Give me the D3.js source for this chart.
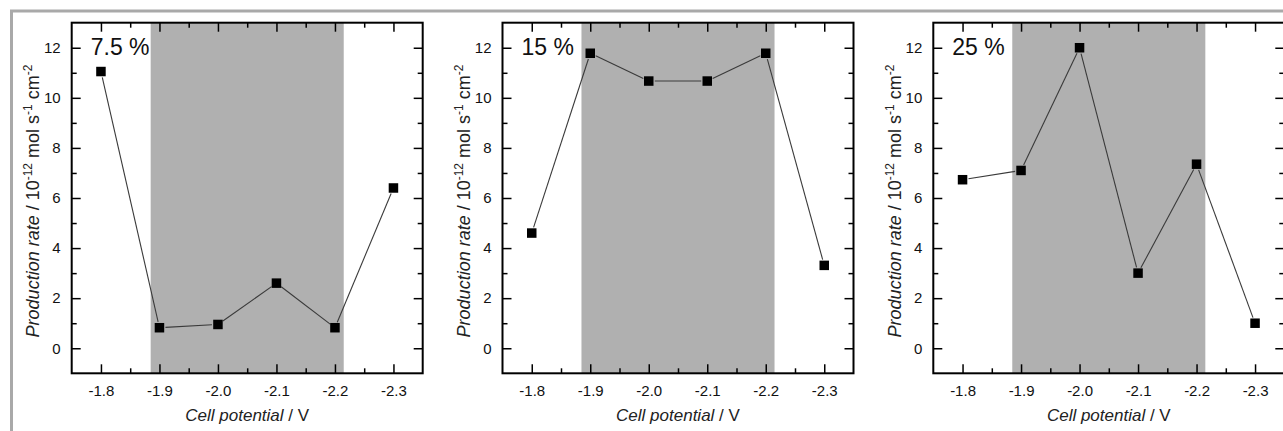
<!DOCTYPE html>
<html>
<head>
<meta charset="utf-8">
<script src="https://cdn.jsdelivr.net/npm/d3@7"></script>
<style>
  body { margin: 0; background: #fff; }
  svg { display: block; font-family: "Liberation Sans", Arial, sans-serif; }
</style>
</head>
<body>
<svg id="chart" width="1283" height="431"></svg>
<script>
// data
var potentials = [-1.8, -1.9, -2.0, -2.1, -2.2, -2.3];
var rate75 = [11.05, 0.82, 0.95, 2.6, 0.82, 6.4];
var rate15 = [4.6, 11.78, 10.67, 10.67, 11.78, 3.31];
var rate25 = [6.73, 7.1, 12.0, 3.0, 7.35, 1.0];
var panelLabels = ["7.5 %", "15 %", "25 %"];
var shadedRange = [-1.885, -2.215];
var xMajor = [-1.8, -1.9, -2.0, -2.1, -2.2, -2.3];
var xMinor = [-1.85, -1.95, -2.05, -2.15, -2.25];
var yMajor = [0, 2, 4, 6, 8, 10, 12];
var yMinor = [1, 3, 5, 7, 9, 11];

var series = [rate75, rate15, rate25];
var fontFam = '"Liberation Sans", Arial, sans-serif';

var svg = d3.select("#chart");

// light gray frame round the figure (top and left only are in view)
svg.append("path")
  .attr("d", "M11.5,431V11H1283")
  .attr("fill", "none")
  .attr("stroke", "#a9a9a9")
  .attr("stroke-width", 3);

var width = 351, height = 350.6;
var top0 = 22.7;

var x = d3.scaleLinear().domain([-1.75, -2.35]).range([0, width]);
var y = d3.scaleLinear().domain([-1, 13]).range([height, 0]);

series.forEach(function(vals, i) {
  var left = 71.7 + i * 430.8;
  var g = svg.append("g").attr("transform", "translate(" + left + "," + top0 + ")");

  // shaded window
  g.append("rect")
    .attr("x", x(shadedRange[0]))
    .attr("width", x(shadedRange[1]) - x(shadedRange[0]))
    .attr("y", 0)
    .attr("height", height)
    .attr("fill", "#b0b0b0");

  var pts = potentials.map(function(p, k) { return [x(p), y(vals[k])]; });

  // line segments, stopped a little short of the symbols
  var gap = 6;
  for (var k = 0; k < pts.length - 1; k++) {
    var a = pts[k], b = pts[k + 1];
    var dx = b[0] - a[0], dy = b[1] - a[1];
    var len = Math.sqrt(dx * dx + dy * dy);
    var ux = dx / len, uy = dy / len;
    g.append("line")
      .attr("x1", a[0] + ux * gap).attr("y1", a[1] + uy * gap)
      .attr("x2", b[0] - ux * gap).attr("y2", b[1] - uy * gap)
      .attr("stroke", "#3a3a3a")
      .attr("stroke-width", 1.1);
  }

  var s = 9.5;
  g.selectAll(".pt")
    .data(potentials)
    .enter()
    .append("rect")
    .attr("class", "pt")
    .attr("x", function(d) { return x(d) - s / 2; })
    .attr("y", function(d, k) { return y(vals[k]) - s / 2; })
    .attr("width", s)
    .attr("height", s)
    .attr("fill", "#000");

  var fmt = function(d) { return d.toFixed(1); };

  function styleAxis(sel) {
    sel.select(".domain").remove();
    sel.attr("font-family", null).attr("font-size", null);
    sel.selectAll("line").attr("stroke", "#000").attr("stroke-width", 1.5);
    sel.selectAll("text")
      .attr("fill", "#111")
      .style("font-family", fontFam)
      .style("font-size", "15px");
  }

  // bottom
  g.append("g").attr("transform", "translate(0," + height + ")")
    .call(d3.axisBottom(x).tickValues(xMajor).tickFormat(fmt).tickSize(-9).tickPadding(12))
    .call(styleAxis);
  g.append("g").attr("transform", "translate(0," + height + ")")
    .call(d3.axisBottom(x).tickValues(xMinor).tickFormat("").tickSize(-5))
    .call(styleAxis);
  // top
  g.append("g")
    .call(d3.axisTop(x).tickValues(xMajor).tickFormat("").tickSize(-9))
    .call(styleAxis);
  g.append("g")
    .call(d3.axisTop(x).tickValues(xMinor).tickFormat("").tickSize(-5))
    .call(styleAxis);
  // left
  g.append("g")
    .call(d3.axisLeft(y).tickValues(yMajor).tickFormat(d3.format("d")).tickSize(-9).tickPadding(11))
    .call(styleAxis);
  g.append("g")
    .call(d3.axisLeft(y).tickValues(yMinor).tickFormat("").tickSize(-5))
    .call(styleAxis);
  // right
  g.append("g").attr("transform", "translate(" + width + ",0)")
    .call(d3.axisRight(y).tickValues(yMajor).tickFormat("").tickSize(-9))
    .call(styleAxis);
  g.append("g").attr("transform", "translate(" + width + ",0)")
    .call(d3.axisRight(y).tickValues(yMinor).tickFormat("").tickSize(-5))
    .call(styleAxis);

  // frame
  g.append("rect")
    .attr("width", width).attr("height", height)
    .attr("fill", "none")
    .attr("stroke", "#000")
    .attr("stroke-width", 2);

  // panel label
  g.append("text")
    .attr("x", 19).attr("y", 32.3)
    .style("font-size", "23px")
    .attr("fill", "#111")
    .text(panelLabels[i]);

  // x title
  var xt = g.append("text")
    .attr("x", width / 2).attr("y", height + 47.4)
    .attr("text-anchor", "middle")
    .style("font-size", "17px")
    .attr("fill", "#222");
  xt.append("tspan").style("font-style", "italic").text("Cell potential");
  xt.append("tspan").text(" / V");

  // y title
  var yt = g.append("text")
    .attr("transform", "translate(-32.5," + (height / 2 + 3) + ") rotate(-90)")
    .attr("text-anchor", "middle")
    .style("font-size", "18px")
    .attr("fill", "#222");
  yt.append("tspan").style("font-style", "italic").text("Production rate");
  yt.append("tspan").text(" / 10");
  yt.append("tspan").attr("dy", -7).style("font-size", "12px").text("-12");
  yt.append("tspan").attr("dy", 7).text(" mol s");
  yt.append("tspan").attr("dy", -7).style("font-size", "12px").text("-1");
  yt.append("tspan").attr("dy", 7).text(" cm");
  yt.append("tspan").attr("dy", -7).style("font-size", "12px").text("-2");
});
</script>
</body>
</html>
